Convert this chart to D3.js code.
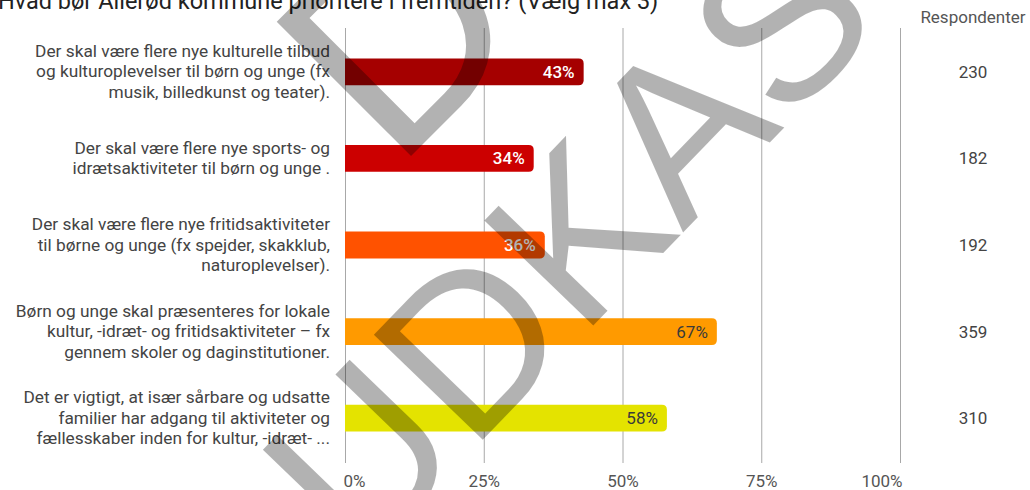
<!DOCTYPE html>
<html>
<head>
<meta charset="utf-8">
<script src="https://cdn.jsdelivr.net/npm/d3@7"></script>
<style>
  html, body { margin: 0; padding: 0; background: #fff; }
  svg { display: block; font-family: Roboto, "Noto Sans", sans-serif; }
</style>
</head>
<body>
<svg width="1030" height="490"></svg>
<script>
const title = "Hvad bør Allerød kommune prioritere i fremtiden? (Vælg max 3)"
const columnTitle = "Respondenter"

const categories = [
  ["Der skal være flere nye kulturelle tilbud", "og kulturoplevelser til børn og unge (fx", "musik, billedkunst og teater)."],
  ["Der skal være flere nye sports- og", "idrætsaktiviteter til børn og unge ."],
  ["Der skal være flere nye fritidsaktiviteter", "til børne og unge (fx spejder, skakklub,", "naturoplevelser)."],
  ["Børn og unge skal præsenteres for lokale", "kultur, -idræt- og fritidsaktiviteter – fx", "gennem skoler og daginstitutioner."],
  ["Det er vigtigt, at især sårbare og udsatte", "familier har adgang til aktiviteter og", "fællesskaber inden for kultur, -idræt- ..."]
]
const shares = [43, 34, 36, 67, 58]
const respondents = [230, 182, 192, 359, 310]
const ticks = [0, 25, 50, 75, 100]
const watermark = "UDKAST"

const svg = d3.select("svg")

const x = d3.scaleLinear().domain([0, 100]).range([345, 900])
const y = d3.scaleBand()
  .domain(d3.range(categories.length))
  .range([28.5, 461.5])
  .paddingInner(0.69)
  .paddingOuter(0.345)

const barColor = d3.scaleOrdinal()
  .domain(d3.range(categories.length))
  .range(["#a50000", "#cc0000", "#ff5200", "#ff9a00", "#e4e300"])
const darkLabel = [false, false, false, true, true]

// title (cut at the top edge, like the screenshot)
svg.append("text")
  .attr("x", -2).attr("y", 9)
  .style("font-size", "23.5px").style("fill", "#222")
  .text(title)

// grid + tick labels
const axis = svg.append("g")
  .attr("transform", "translate(0,463)")
  .call(d3.axisBottom(x).tickValues(ticks).tickSize(-435).tickPadding(12).tickFormat(d => d + "%"))
axis.select(".domain").remove()
axis.selectAll(".tick line").attr("stroke", "#a8a8a8")
axis.selectAll(".tick text")
  .style("font-size", "17px").style("font-family", "Roboto").attr("fill", "#555")
  .attr("text-anchor", (d, i) => i === 0 ? "start" : i === ticks.length - 1 ? "end" : "middle")
  .attr("dx", (d, i) => i === 0 ? -2 : i === ticks.length - 1 ? 2 : 0)

// category labels
svg.append("g").selectAll("text")
  .data(categories)
  .join("text")
  .attr("text-anchor", "end")
  .style("font-size", "17.3px").style("fill", "#444")
  .each(function (lines, i) {
    const mid = y(i) + y.bandwidth() / 2
    d3.select(this).selectAll("tspan")
      .data(lines)
      .join("tspan")
      .attr("x", 330)
      .attr("y", (l, j) => mid + 5.5 + (j - (lines.length - 1) / 2) * 20.5)
      .text(l => l)
  })

// bars with rounded right end
const r = 5
svg.append("g").selectAll("path")
  .data(shares)
  .join("path")
  .attr("fill", (d, i) => barColor(i))
  .attr("d", (d, i) => {
    const x0 = x(0), x1 = x(d), y0 = y(i), y1 = y(i) + y.bandwidth()
    return `M${x0},${y0}H${x1 - r}Q${x1},${y0} ${x1},${y0 + r}V${y1 - r}Q${x1},${y1} ${x1 - r},${y1}H${x0}Z`
  })

svg.append("g").selectAll("text")
  .data(shares)
  .join("text")
  .attr("x", d => x(d) - 9)
  .attr("y", (d, i) => y(i) + y.bandwidth() / 2 + 6)
  .attr("text-anchor", "end")
  .style("font-size", "17px")
  .style("font-weight", (d, i) => darkLabel[i] ? 400 : 500)
  .style("fill", (d, i) => darkLabel[i] ? "#3a3a3a" : "#fff")
  .text(d => d + "%")

// respondent column
svg.append("text")
  .attr("x", 973).attr("y", 23)
  .attr("text-anchor", "middle")
  .style("font-size", "17px").style("fill", "#555")
  .text(columnTitle)

svg.append("g").selectAll("text")
  .data(respondents)
  .join("text")
  .attr("x", 973)
  .attr("y", (d, i) => y(i) + y.bandwidth() / 2 + 6)
  .attr("text-anchor", "middle")
  .style("font-size", "17px").style("fill", "#444")
  .text(d => d)

// draft watermark on top
const wm = svg.append("g")
  .style("font-family", "'Liberation Sans', Arial, sans-serif")
  .style("fill", "#000").style("fill-opacity", 0.3)
wm.append("text")
  .attr("transform", "translate(360,567) rotate(-46)")
  .style("font-size", "220px")
  .text(watermark)
wm.append("text")
  .attr("transform", "translate(395,172) rotate(-45)")
  .style("font-size", "276px")
  .text(watermark.charAt(1))
</script>
</body>
</html>
